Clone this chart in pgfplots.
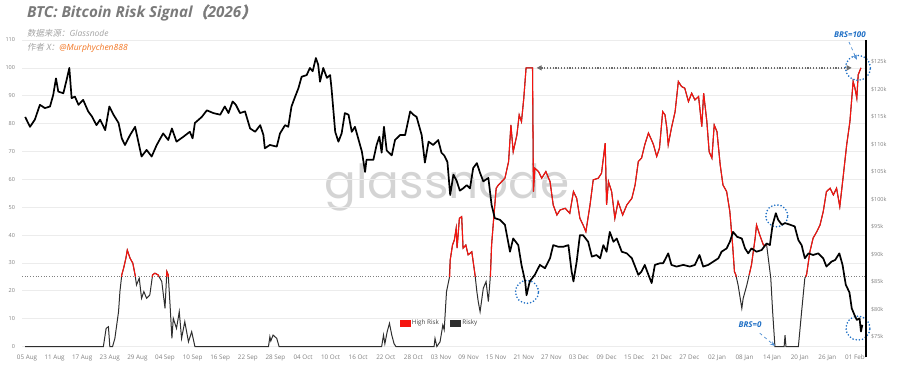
\documentclass[border=0pt]{standalone}
\usepackage{pgfplots}
\pgfplotsset{compat=1.18}
\usepackage{fontspec}
\usetikzlibrary{arrows.meta}
\setmainfont{Open Sans}
\newfontfamily\cjk{Noto Sans CJK SC}[FakeSlant=0.18]
\newfontfamily\cjkb{Noto Sans CJK SC}[FakeSlant=0.2, FakeBold=1.5]
\newfontfamily\wm{Poppins}
\definecolor{riskred}{HTML}{F5140F}
\definecolor{riskblk}{HTML}{2E2E2E}
\definecolor{annblue}{HTML}{1F6FC5}
\definecolor{ttlgray}{HTML}{7A7A7A}
\definecolor{subgray}{HTML}{A3A3A3}
\definecolor{orng}{HTML}{F27522}
\definecolor{gridc}{HTML}{ECECEC}
\definecolor{tickc}{HTML}{808080}

\pgfplotstableread{
d p
-0.4 115.0
0.65 113.2
1.7 114.5
2.8 117.2
3.9 116.6
5.0 116.9
5.7 119.0
6.3 122.0
6.8 119.6
7.9 119.3
8.6 121.7
9.2 123.9
9.7 118.4
10.4 118.7
11.2 117.2
12.2 118.1
13.3 116.0
14.1 115.1
15.1 113.5
15.9 114.5
17.0 112.6
17.9 116.9
18.8 115.4
19.9 113.9
20.6 111.1
21.3 109.9
22.4 111.7
23.5 113.2
24.2 110.5
24.9 107.8
26.0 109.0
27.1 107.8
28.2 109.9
29.6 112.0
30.7 110.8
31.5 112.9
32.5 110.5
34.0 111.4
35.4 112.3
36.0 111.1
36.5 113.9
38.0 115.0
39.1 116.2
40.5 115.7
42.0 115.4
43.0 116.9
43.8 115.7
44.7 117.8
45.4 117.2
46.3 115.7
47.4 116.0
48.5 112.9
49.6 112.3
50.7 113.5
51.4 111.7
51.7 109.3
52.8 109.9
54.3 109.6
55.0 112.0
56.1 113.5
56.8 113.2
57.5 116.9
58.3 118.7
59.0 120.2
59.7 122.3
60.8 122.6
61.5 123.9
62.1 123.3
62.8 125.7
63.3 124.5
63.7 121.4
64.4 123.9
65.2 122.1
65.9 122.6
66.2 120.2
67.0 112.3
67.7 110.5
68.4 112.0
69.1 115.7
69.9 115.4
70.6 112.3
71.3 113.2
72.0 111.1
72.8 108.7
73.5 105.0
73.8 107.2
75.3 107.2
76.0 109.9
76.6 111.4
77.1 108.5
77.6 113.2
78.2 108.9
79.3 108.0
80.0 110.8
81.1 111.7
82.2 111.7
83.3 116.0
84.0 115.4
84.7 115.0
85.8 111.7
86.5 106.7
87.3 110.5
88.3 109.9
89.4 110.8
90.1 108.5
90.7 108.0
91.4 106.8
92.0 100.8
92.7 104.5
93.4 103.4
94.1 101.6
94.8 102.0
95.6 102.6
96.3 102.0
97.0 105.7
97.8 106.6
98.5 104.8
99.2 103.3
100.3 103.9
101.0 99.0
101.7 96.6
102.8 96.3
103.9 95.4
105.0 90.5
105.7 92.9
106.8 91.7
107.5 88.1
108.3 85.1
108.6 82.6
109.3 85.1
110.4 86.3
111.5 88.1
112.6 87.5
113.7 89.3
114.4 91.7
115.5 91.4
116.6 91.4
117.7 91.7
118.4 86.9
118.8 85.1
119.5 88.7
120.2 93.5
120.9 93.5
122.0 92.3
122.8 89.6
123.8 89.9
124.6 89.3
125.3 91.7
126.0 90.5
126.7 94.1
127.5 92.3
128.2 92.9
129.3 90.5
130.4 90.2
131.5 89.3
132.2 87.8
132.9 86.3
133.6 86.9
134.3 88.1
135.1 86.3
135.8 84.8
136.5 88.1
137.6 88.4
138.3 88.4
139.4 90.2
140.1 88.1
141.2 87.8
142.7 88.1
144.1 87.8
145.2 88.1
146.2 89.9
147.0 87.8
148.1 88.1
149.2 88.7
150.3 89.3
151.0 90.5
152.1 91.1
152.8 92.3
153.5 94.1
154.4 93.2
155.4 92.9
156.1 91.1
156.8 90.2
157.5 91.1
158.6 90.5
159.7 90.8
160.8 92.0
161.5 91.7
162.1 95.4
162.8 97.5
163.3 96.3
164.1 95.4
164.8 95.7
165.9 95.4
166.9 95.1
167.7 92.6
168.4 91.7
169.1 89.3
169.9 90.2
170.9 89.9
172.0 90.2
173.1 89.3
173.8 87.8
174.9 88.7
175.7 89.0
176.6 90.2
177.3 88.1
178.0 84.5
178.8 83.1
179.3 80.2
179.9 79.0
180.4 78.1
181.0 78.4
181.3 76.0
181.6 77.2
}\price

\pgfplotstableread{
d r
-0.4 0
16.6 0
17.2 6.5
17.7 7.1
18.0 0
18.6 0
19.1 2.9
19.9 12.5
20.2 19.7
20.6 25.7
21.0 28.1
21.5 31.7
21.8 34.6
22.4 31.7
23.0 29.9
23.5 25.7
23.8 22.1
24.4 24.5
24.9 17.3
25.4 19.7
26.0 17.3
26.7 18.5
27.3 25.7
27.8 26.3
28.5 25.7
29.3 23.3
30.0 13.7
30.4 26.9
30.7 25.7
31.1 14.9
31.5 2.9
31.8 10.1
32.5 6.5
33.1 12.5
33.6 2.9
34.3 8.9
35.1 1.7
35.8 5.3
36.5 0
52.5 0
52.8 3.5
53.0 2.0
53.5 4.1
54.3 2.9
54.8 0
77.1 0
77.5 4.1
77.8 1
78.3 5.3
78.8 8.3
79.3 4.1
79.8 1
80.2 0
88.5 0
88.7 2.9
89.1 0
89.8 1.7
90.4 7.7
90.7 6
91.2 19.7
91.8 24.5
92.0 31
92.5 36.4
92.9 38.2
93.3 42.4
93.5 35.3
94.0 46.0
94.5 46.6
94.8 35.3
95.4 36.4
95.9 32.9
96.7 34.0
97.4 25.7
97.8 19.7
98.1 16.1
98.5 12.5
99.2 20.9
99.8 23.3
100.3 16.1
100.7 24.5
101.0 36.4
101.4 44.8
102.0 56.8
102.5 58.0
103.2 59.2
103.9 60.4
104.7 66.4
105.2 79.5
105.7 69.9
106.5 75.9
107.0 83.1
107.5 80.7
108.0 89.1
108.5 100
109.9 100
110.1 55.6
110.4 64.0
111.2 62.8
111.9 60.4
112.8 62.8
113.7 59.2
114.4 50.8
115.2 47.2
115.9 49.0
117.0 49.6
118.0 47.8
118.8 55.6
119.5 53.2
120.2 46.0
120.9 43.6
121.5 41.2
122.4 50.8
123.1 59.8
124.2 60.4
124.9 62.2
125.7 73.0
126.0 50.8
126.4 59.2
127.1 55.6
127.8 46.0
128.5 52.0
129.5 47.2
130.4 50.8
131.5 53.2
132.2 58.0
132.9 66.4
133.6 67.6
134.3 72.4
135.1 76.6
135.8 74.0
136.2 72.4
136.9 68.2
137.5 71.2
138.2 84.3
138.7 83.1
139.1 78.4
139.4 72.4
140.1 78.4
140.9 84.3
141.6 95.1
142.3 93.3
143.0 92.7
143.8 87.9
144.5 90.9
145.2 88.5
146.0 89.7
146.7 78.9
147.1 90.9
147.8 80.7
148.3 69.9
148.9 67.6
149.4 79.5
150.0 77.1
150.7 65.2
151.3 58.0
152.1 55.6
152.8 48.4
153.4 36.4
153.8 26.9
154.1 25.7
154.6 22
155.4 13.7
155.7 17.3
156.5 22.1
157.0 25.7
157.5 29.3
158.3 38.9
158.6 43.6
159.3 40.0
160.1 36.4
160.8 36.4
161.7 24.5
162.1 12.5
162.6 0
164.6 0
164.8 4.1
165.0 0
167.7 0
168.4 12.5
169.1 24.5
169.5 26
170.2 34.0
170.9 38.9
171.7 41.2
172.4 43.6
173.1 48.4
173.8 55.6
174.6 56.8
175.3 54.4
176.0 56.8
176.7 50.2
177.4 60.4
178.2 72.4
178.9 80.7
179.6 95.1
180.0 92.7
180.4 89.1
180.7 97.5
181.3 100
}\risk

\begin{document}
\begin{tikzpicture}[x=1pt,y=1pt]
\useasboundingbox (0,0) rectangle (900,375);
\node[font=\wm\fontsize{47}{47}\selectfont, text=black!17, anchor=center] at (447,188) {glassnode};
\node[anchor=west, text=ttlgray, inner sep=0] at (27,362) {\fontsize{15.2}{17}\selectfont\bfseries\itshape BTC: Bitcoin Risk Signal{\cjkb（}2026{\cjkb）}};
\node[anchor=west, text=subgray, inner sep=0] at (27,342) {\fontsize{8.5}{10}\selectfont{\cjk 数据来源：}\itshape Glassnode};
\node[anchor=west, text=subgray, inner sep=0] at (27,327) {\fontsize{8.5}{10}\selectfont{\cjk 作者 X：}{\itshape\color{orng}@Murphychen888}};

\begin{axis}[
  at={(22pt,28.5pt)}, anchor=south west, scale only axis,
  width=844pt, height=306.5pt,
  xmin=-1.09, xmax=182.4, ymin=0, ymax=110,
  clip=false,
  axis line style={draw=none}, major tick length=0,
  ytick={0,10,...,110}, ymajorgrids, grid style={gridc, line width=0.6pt},
  xtick={0,6,...,180},
  xticklabels={05 Aug,11 Aug,17 Aug,23 Aug,29 Aug,04 Sep,10 Sep,16 Sep,22 Sep,28 Sep,04 Oct,10 Oct,16 Oct,22 Oct,28 Oct,03 Nov,09 Nov,15 Nov,21 Nov,27 Nov,03 Dec,09 Dec,15 Dec,21 Dec,27 Dec,02 Jan,08 Jan,14 Jan,20 Jan,26 Jan,01 Feb},
  tick label style={text=tickc},
  yticklabel style={font=\fontsize{5.5}{6}\selectfont, xshift=-3.5pt},
  xticklabel style={font=\fontsize{6.3}{7}\selectfont, yshift=-5pt},
  /pgf/number format/assume math mode=true,
  legend style={at={(axis cs:80.3,8.4)}, anchor=west, draw=none, fill=none,
    font=\fontsize{6.3}{7}\selectfont, text=black!75, legend columns=2,
    /tikz/every even column/.append style={column sep=9pt}},
]
\addplot[forget plot, gray, line width=0.7pt, dotted] coordinates {(-1.09,25) (182.4,25)};
\addplot[forget plot, riskblk, line width=1pt] table[x=d,y=r] {\risk};
\addplot[forget plot, riskred, line width=1.1pt] coordinates {(20.5,25) (20.6,25.7) (21.0,28.1) (21.5,31.7) (21.8,34.6) (22.4,31.7) (23.0,29.9) (23.5,25.7) (23.6,25)};
\addplot[forget plot, riskred, line width=1.1pt] coordinates {(27.2,25) (27.3,25.7) (27.8,26.3) (28.5,25.7) (28.7,25)};
\addplot[forget plot, riskred, line width=1.1pt] coordinates {(30.35,25) (30.4,26.9) (30.7,25.7) (30.75,25)};
\addplot[forget plot, riskred, line width=1.1pt] coordinates {(91.9,25) (92.0,31) (92.5,36.4) (92.9,38.2) (93.3,42.4) (93.5,35.3) (94.0,46.0) (94.5,46.6) (94.8,35.3) (95.4,36.4) (95.9,32.9) (96.7,34.0) (97.4,25.7) (97.45,25)};
\addplot[forget plot, riskred, line width=1.1pt] coordinates {(100.75,25) (101.0,36.4) (101.4,44.8) (102.0,56.8) (102.5,58.0) (103.2,59.2) (103.9,60.4) (104.7,66.4) (105.2,79.5) (105.7,69.9) (106.5,75.9) (107.0,83.1) (107.5,80.7) (108.0,89.1) (108.5,100) (109.9,100) (110.1,55.6) (110.4,64.0) (111.2,62.8) (111.9,60.4) (112.8,62.8) (113.7,59.2) (114.4,50.8) (115.2,47.2) (115.9,49.0) (117.0,49.6) (118.0,47.8) (118.8,55.6) (119.5,53.2) (120.2,46.0) (120.9,43.6) (121.5,41.2) (122.4,50.8) (123.1,59.8) (124.2,60.4) (124.9,62.2) (125.7,73.0) (126.0,50.8) (126.4,59.2) (127.1,55.6) (127.8,46.0) (128.5,52.0) (129.5,47.2) (130.4,50.8) (131.5,53.2) (132.2,58.0) (132.9,66.4) (133.6,67.6) (134.3,72.4) (135.1,76.6) (135.8,74.0) (136.2,72.4) (136.9,68.2) (137.5,71.2) (138.2,84.3) (138.7,83.1) (139.1,78.4) (139.4,72.4) (140.1,78.4) (140.9,84.3) (141.6,95.1) (142.3,93.3) (143.0,92.7) (143.8,87.9) (144.5,90.9) (145.2,88.5) (146.0,89.7) (146.7,78.9) (147.1,90.9) (147.8,80.7) (148.3,69.9) (148.9,67.6) (149.4,79.5) (150.0,77.1) (150.7,65.2) (151.3,58.0) (152.1,55.6) (152.8,48.4) (153.4,36.4) (153.8,26.9) (154.1,25.7) (154.2,25)};
\addplot[forget plot, riskred, line width=1.1pt] coordinates {(157.0,25.7) (157.5,29.3) (158.3,38.9) (158.6,43.6) (159.3,40.0) (160.1,36.4) (160.8,36.4)};
\addplot[forget plot, riskred, line width=1.1pt] coordinates {(169.35,25) (169.5,26) (170.2,34.0) (170.9,38.9) (171.7,41.2) (172.4,43.6) (173.1,48.4) (173.8,55.6) (174.6,56.8) (175.3,54.4) (176.0,56.8) (176.7,50.2) (177.4,60.4) (178.2,72.4) (178.9,80.7) (179.6,95.1) (180.0,92.7) (180.4,89.1) (180.7,97.5) (181.3,100)};
\addlegendimage{legend image code/.code={\fill[riskred] (0pt,-2.8pt) rectangle (10pt,2.8pt);}}
\addlegendentry{High Risk}
\addlegendimage{legend image code/.code={\fill[riskblk] (0pt,-2.8pt) rectangle (10pt,2.8pt);}}
\addlegendentry{Risky}
% annotations
\draw[gray!85!black, line width=1.3pt, dash pattern=on 1.2pt off 1.6pt, {Triangle[width=5pt,length=5pt]}-{Triangle[width=5pt,length=5pt]}] (axis cs:110.8,100) -- (axis cs:179.3,100);
\draw[annblue, line width=1.8pt, line cap=round, dash pattern=on 0pt off 3.2pt] (axis cs:108.7,19.6) circle[radius=11.5pt];
\draw[annblue, line width=1.8pt, line cap=round, dash pattern=on 0pt off 3.2pt] (axis cs:163.0,46.9) circle[radius=11pt];
\draw[annblue, line width=1.8pt, line cap=round, dash pattern=on 0pt off 3.2pt] (axis cs:180.65,100) circle[radius=12.5pt];
\draw[annblue, line width=1.8pt, line cap=round, dash pattern=on 0pt off 3.2pt] (axis cs:180.65,6.6) circle[radius=12pt];
\node[text=annblue, font=\fontsize{8}{9}\selectfont\bfseries\itshape] at (axis cs:178.9,111.8) {BRS=100};
\node[text=annblue, font=\fontsize{8}{9}\selectfont\bfseries\itshape] at (axis cs:157.2,7.7) {BRS=0};
\draw[annblue!80, line width=0.7pt, dashed, -{Stealth[length=5pt,width=4pt]}] (axis cs:178.7,109.3) -- (axis cs:180.4,102.9);
\draw[annblue!80, line width=0.7pt, dashed, -{Stealth[length=5pt,width=4pt]}] (axis cs:159.3,4.8) -- (axis cs:162.6,0.2);
\end{axis}

\begin{axis}[
  at={(22pt,28.5pt)}, anchor=south west, scale only axis,
  width=844pt, height=306.5pt,
  xmin=-1.09, xmax=182.4, ymin=73.27, ymax=128.98,
  axis x line=none, axis y line*=right,
  y axis line style={black, line width=1.3pt, -, shorten <=-11pt},
  major tick length=0,
  ytick={75,80,...,125},
  yticklabels={\$75k,\$80k,\$85k,\$90k,\$95k,\$100k,\$105k,\$110k,\$115k,\$120k,\$125k},
  yticklabel style={font=\fontsize{5.5}{6}\selectfont, text=tickc, xshift=1.5pt},
]
\addplot[black, line width=1.7pt, line join=round] table[x=d,y=p] {\price};
\end{axis}
\end{tikzpicture}
\end{document}
